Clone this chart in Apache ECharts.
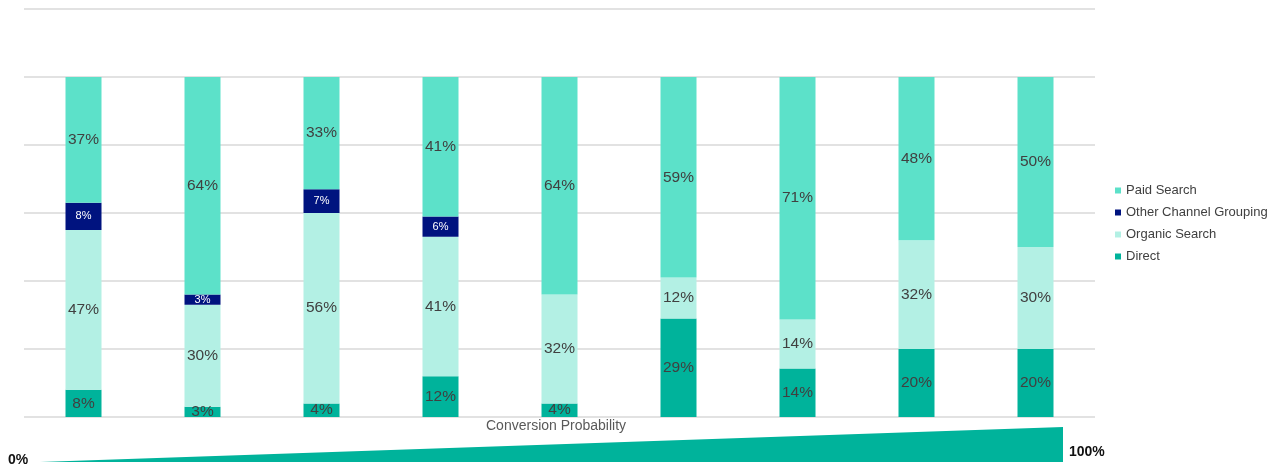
<!DOCTYPE html>
<html>
<head>
<meta charset="utf-8">
<script src="https://cdn.jsdelivr.net/npm/echarts@6/dist/echarts.min.js"></script>
<style>
  html, body { margin: 0; padding: 0; background: #fff; }
  #chart { width: 1284px; height: 465px; }
</style>
</head>
<body>
<div id="chart"></div>
<script>
// nine buckets of conversion probability, low -> high
var categories = ['1', '2', '3', '4', '5', '6', '7', '8', '9'];
var direct = [8, 3, 4, 12, 4, 29, 14.3, 20, 20];
var organicSearch = [47, 30, 56, 41, 32, 12, 14.4, 32, 30];
var otherChannel = [8, 3, 7, 6, 0, 0, 0, 0, 0];
var paidSearch = [37, 64, 33, 41, 64, 59, 71.3, 48, 50];

var chart = echarts.init(document.getElementById('chart'));

function pct(p) {
    return p.value > 0 ? Math.round(p.value) + '%' : '';
}

var bigLabel = { show: true, position: 'inside', formatter: pct, color: '#404040', fontSize: 15.5, fontFamily: 'Liberation Sans' };

chart.setOption({
    animation: false,
    grid: { left: 24, right: 189, top: 9, bottom: 48 },
    legend: {
        orient: 'vertical', left: 1110, top: 179, itemGap: 9,
        itemWidth: 6, itemHeight: 6, icon: 'rect',
        textStyle: { color: '#404040', fontSize: 13, fontFamily: 'Liberation Sans' },
        data: ['Paid Search', 'Other Channel Grouping', 'Organic Search', 'Direct']
    },
    xAxis: {
        type: 'category', data: categories,
        axisLine: { show: false }, axisTick: { show: false }, axisLabel: { show: false }
    },
    yAxis: {
        type: 'value', min: 0, max: 120, interval: 20,
        axisLabel: { show: false },
        splitLine: { lineStyle: { color: '#d9d9d9', width: 1.5 } }
    },
    series: [
        { name: 'Direct', type: 'bar', stack: 'a', barWidth: 36, data: direct,
          itemStyle: { color: '#00b39b' }, label: bigLabel },
        { name: 'Organic Search', type: 'bar', stack: 'a', data: organicSearch,
          itemStyle: { color: '#b3f0e4' }, label: bigLabel },
        { name: 'Other Channel Grouping', type: 'bar', stack: 'a', data: otherChannel,
          itemStyle: { color: '#00137f' },
          label: { show: true, position: 'inside', formatter: pct, color: '#fff', fontSize: 11, fontFamily: 'Liberation Sans' } },
        { name: 'Paid Search', type: 'bar', stack: 'a', data: paidSearch,
          itemStyle: { color: '#5ce1c9' }, label: bigLabel }
    ],
    graphic: [
        { type: 'text', left: 486, top: 419,
          style: { text: 'Conversion Probability', fill: '#595959', font: '14px "Liberation Sans"' } },
        { type: 'polygon', shape: { points: [[40, 462], [1063, 427], [1063, 462]] },
          style: { fill: '#00b39b' } },
        { type: 'text', left: 8, top: 453,
          style: { text: '0%', fill: '#111', font: 'bold 14px "Liberation Sans"' } },
        { type: 'text', left: 1069, top: 445,
          style: { text: '100%', fill: '#111', font: 'bold 14px "Liberation Sans"' } }
    ]
});
</script>
</body>
</html>
